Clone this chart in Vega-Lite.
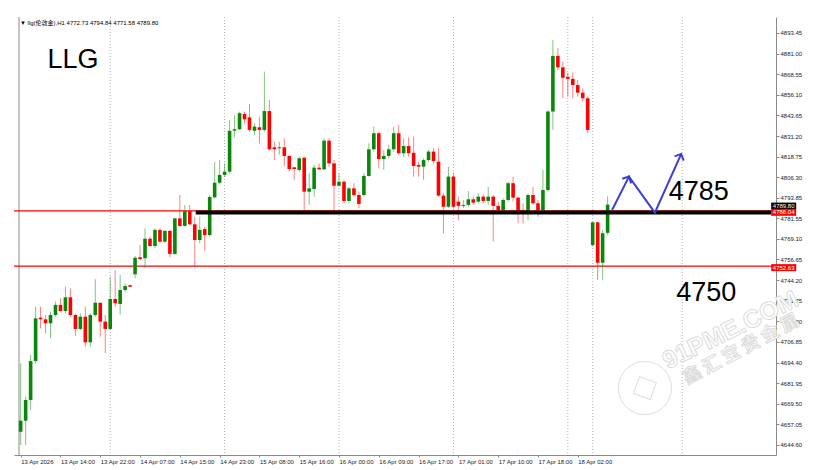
{
  "$schema": "https://vega.github.io/schema/vega-lite/v6.json",
  "width": 762,
  "height": 438,
  "autosize": {"type": "none"},
  "padding": {"left": 14, "top": 17, "right": 46, "bottom": 15},
  "background": "white",
  "config": {"view": {"stroke": null}, "font": "Liberation Sans"},
  "resolve": {"axis": {"x": "independent", "y": "independent"}},
  "datasets": {
    "candles": [
      {"i":0,"o":4652.6,"h":4694.0,"l":4644.6,"c":4659.3},
      {"i":1,"o":4659.3,"h":4673.8,"l":4644.6,"c":4671.8},
      {"i":2,"o":4671.8,"h":4699.0,"l":4665.7,"c":4695.3},
      {"i":3,"o":4695.3,"h":4728.1,"l":4693.9,"c":4721.1},
      {"i":4,"o":4721.5,"h":4728.1,"l":4715.1,"c":4720.5},
      {"i":5,"o":4720.5,"h":4723.1,"l":4712.1,"c":4718.1},
      {"i":6,"o":4718.1,"h":4725.1,"l":4709.0,"c":4723.1},
      {"i":7,"o":4723.1,"h":4731.2,"l":4722.1,"c":4729.2},
      {"i":8,"o":4729.2,"h":4733.2,"l":4725.1,"c":4725.5},
      {"i":9,"o":4725.5,"h":4740.2,"l":4724.1,"c":4733.8},
      {"i":10,"o":4733.8,"h":4739.2,"l":4722.1,"c":4723.1},
      {"i":11,"o":4723.1,"h":4724.1,"l":4710.4,"c":4714.7},
      {"i":12,"o":4714.7,"h":4724.1,"l":4714.1,"c":4722.1},
      {"i":13,"o":4722.1,"h":4728.1,"l":4704.0,"c":4706.6},
      {"i":14,"o":4706.6,"h":4724.1,"l":4704.0,"c":4723.1},
      {"i":15,"o":4723.1,"h":4744.7,"l":4722.1,"c":4730.5},
      {"i":16,"o":4730.5,"h":4730.5,"l":4710.0,"c":4719.1},
      {"i":17,"o":4719.1,"h":4723.1,"l":4700.0,"c":4714.7},
      {"i":18,"o":4714.7,"h":4746.3,"l":4714.1,"c":4732.8},
      {"i":19,"o":4732.8,"h":4750.3,"l":4728.1,"c":4730.2},
      {"i":20,"o":4729.8,"h":4747.3,"l":4723.1,"c":4738.2},
      {"i":21,"o":4738.2,"h":4742.3,"l":4737.2,"c":4740.6},
      {"i":22,"o":4741.1,"h":4741.4,"l":4739.9,"c":4740.2},
      {"i":23,"o":4747.7,"h":4758.8,"l":4745.3,"c":4757.7},
      {"i":24,"o":4758.0,"h":4765.4,"l":4756.3,"c":4756.9},
      {"i":25,"o":4757.4,"h":4775.5,"l":4751.3,"c":4769.2},
      {"i":26,"o":4769.2,"h":4770.4,"l":4764.4,"c":4764.8},
      {"i":27,"o":4764.8,"h":4775.5,"l":4763.4,"c":4774.5},
      {"i":28,"o":4774.5,"h":4775.5,"l":4766.4,"c":4767.4},
      {"i":29,"o":4767.4,"h":4774.5,"l":4766.4,"c":4773.9},
      {"i":30,"o":4773.9,"h":4774.5,"l":4758.0,"c":4760.0},
      {"i":31,"o":4760.0,"h":4781.5,"l":4759.4,"c":4781.5},
      {"i":32,"o":4781.5,"h":4795.6,"l":4776.5,"c":4776.9},
      {"i":33,"o":4776.9,"h":4789.6,"l":4776.5,"c":4785.9},
      {"i":34,"o":4785.9,"h":4789.6,"l":4777.5,"c":4777.9},
      {"i":35,"o":4777.9,"h":4782.5,"l":4752.3,"c":4768.4},
      {"i":36,"o":4768.4,"h":4782.5,"l":4766.4,"c":4774.5},
      {"i":37,"o":4775.0,"h":4776.5,"l":4762.0,"c":4771.4},
      {"i":38,"o":4771.4,"h":4795.6,"l":4770.4,"c":4794.4},
      {"i":39,"o":4794.2,"h":4815.7,"l":4793.6,"c":4803.0},
      {"i":40,"o":4803.0,"h":4816.7,"l":4802.2,"c":4807.7},
      {"i":41,"o":4807.7,"h":4814.7,"l":4806.5,"c":4809.7},
      {"i":42,"o":4809.7,"h":4840.9,"l":4808.7,"c":4834.4},
      {"i":43,"o":4834.4,"h":4843.9,"l":4830.4,"c":4835.3},
      {"i":44,"o":4835.3,"h":4845.9,"l":4834.9,"c":4845.0},
      {"i":45,"o":4844.5,"h":4845.9,"l":4838.9,"c":4841.3},
      {"i":46,"o":4842.5,"h":4850.6,"l":4833.8,"c":4834.9},
      {"i":47,"o":4834.4,"h":4838.9,"l":4831.8,"c":4836.9},
      {"i":48,"o":4836.5,"h":4842.9,"l":4826.8,"c":4834.9},
      {"i":49,"o":4834.9,"h":4870.1,"l":4833.8,"c":4846.3},
      {"i":50,"o":4846.3,"h":4853.0,"l":4822.4,"c":4823.2},
      {"i":51,"o":4824.4,"h":4827.8,"l":4816.7,"c":4823.2},
      {"i":52,"o":4823.8,"h":4827.8,"l":4819.8,"c":4824.4},
      {"i":53,"o":4824.4,"h":4829.8,"l":4812.9,"c":4819.2},
      {"i":54,"o":4819.2,"h":4819.8,"l":4809.7,"c":4811.3},
      {"i":55,"o":4812.3,"h":4812.7,"l":4804.7,"c":4811.3},
      {"i":56,"o":4810.7,"h":4818.7,"l":4809.7,"c":4817.8},
      {"i":57,"o":4818.1,"h":4818.7,"l":4786.5,"c":4797.6},
      {"i":58,"o":4797.6,"h":4808.7,"l":4789.6,"c":4799.6},
      {"i":59,"o":4799.2,"h":4813.7,"l":4794.6,"c":4812.1},
      {"i":60,"o":4812.1,"h":4814.7,"l":4810.7,"c":4811.1},
      {"i":61,"o":4811.1,"h":4829.8,"l":4810.7,"c":4828.4},
      {"i":62,"o":4828.4,"h":4829.8,"l":4812.7,"c":4814.7},
      {"i":63,"o":4814.7,"h":4816.7,"l":4786.5,"c":4801.2},
      {"i":64,"o":4801.2,"h":4808.7,"l":4800.6,"c":4803.6},
      {"i":65,"o":4803.6,"h":4804.7,"l":4790.6,"c":4792.0},
      {"i":66,"o":4792.0,"h":4800.6,"l":4790.6,"c":4799.6},
      {"i":67,"o":4799.6,"h":4802.7,"l":4794.6,"c":4795.6},
      {"i":68,"o":4795.6,"h":4797.6,"l":4787.6,"c":4790.2},
      {"i":69,"o":4795.6,"h":4808.7,"l":4794.6,"c":4807.1},
      {"i":70,"o":4807.1,"h":4826.8,"l":4806.7,"c":4823.2},
      {"i":71,"o":4823.2,"h":4836.9,"l":4821.8,"c":4832.9},
      {"i":72,"o":4832.9,"h":4833.8,"l":4811.7,"c":4817.3},
      {"i":73,"o":4817.3,"h":4822.8,"l":4810.7,"c":4819.2},
      {"i":74,"o":4819.2,"h":4825.8,"l":4817.8,"c":4823.2},
      {"i":75,"o":4823.2,"h":4836.9,"l":4821.8,"c":4832.9},
      {"i":76,"o":4832.9,"h":4837.9,"l":4819.8,"c":4820.8},
      {"i":77,"o":4820.8,"h":4829.8,"l":4818.7,"c":4825.2},
      {"i":78,"o":4825.2,"h":4830.4,"l":4818.7,"c":4820.8},
      {"i":79,"o":4821.1,"h":4830.8,"l":4806.7,"c":4813.1},
      {"i":80,"o":4813.7,"h":4815.7,"l":4806.7,"c":4812.7},
      {"i":81,"o":4812.7,"h":4817.8,"l":4804.7,"c":4816.7},
      {"i":82,"o":4816.7,"h":4822.8,"l":4815.7,"c":4821.8},
      {"i":83,"o":4821.8,"h":4823.8,"l":4814.7,"c":4816.1},
      {"i":84,"o":4815.7,"h":4823.8,"l":4794.6,"c":4795.2},
      {"i":85,"o":4795.2,"h":4796.6,"l":4772.5,"c":4788.5},
      {"i":86,"o":4788.5,"h":4812.7,"l":4787.6,"c":4806.7},
      {"i":87,"o":4806.7,"h":4808.7,"l":4787.6,"c":4788.5},
      {"i":88,"o":4791.6,"h":4794.6,"l":4780.6,"c":4789.0},
      {"i":89,"o":4789.0,"h":4792.6,"l":4787.6,"c":4789.6},
      {"i":90,"o":4789.6,"h":4798.0,"l":4788.5,"c":4793.0},
      {"i":91,"o":4793.0,"h":4794.6,"l":4789.6,"c":4791.0},
      {"i":92,"o":4791.6,"h":4796.6,"l":4790.6,"c":4794.6},
      {"i":93,"o":4794.6,"h":4796.0,"l":4790.6,"c":4792.0},
      {"i":94,"o":4792.0,"h":4800.6,"l":4789.6,"c":4794.6},
      {"i":95,"o":4794.6,"h":4795.6,"l":4767.4,"c":4789.0},
      {"i":96,"o":4789.0,"h":4791.6,"l":4784.5,"c":4786.5},
      {"i":97,"o":4786.5,"h":4793.6,"l":4785.5,"c":4792.6},
      {"i":98,"o":4792.6,"h":4803.6,"l":4791.6,"c":4802.7},
      {"i":99,"o":4802.7,"h":4806.7,"l":4791.6,"c":4794.0},
      {"i":100,"o":4794.0,"h":4794.6,"l":4778.5,"c":4785.0},
      {"i":101,"o":4786.5,"h":4790.6,"l":4778.5,"c":4785.0},
      {"i":102,"o":4785.0,"h":4796.6,"l":4780.6,"c":4795.6},
      {"i":103,"o":4795.6,"h":4800.6,"l":4789.6,"c":4790.6},
      {"i":104,"o":4790.6,"h":4792.6,"l":4782.5,"c":4786.5},
      {"i":105,"o":4786.5,"h":4810.7,"l":4785.5,"c":4798.6},
      {"i":106,"o":4798.6,"h":4847.0,"l":4797.6,"c":4846.0},
      {"i":107,"o":4846.0,"h":4889.2,"l":4834.9,"c":4879.6},
      {"i":108,"o":4879.6,"h":4884.2,"l":4871.1,"c":4872.7},
      {"i":109,"o":4872.7,"h":4876.1,"l":4854.0,"c":4866.4},
      {"i":110,"o":4867.0,"h":4869.5,"l":4855.0,"c":4865.7},
      {"i":111,"o":4865.7,"h":4869.5,"l":4854.0,"c":4862.0},
      {"i":112,"o":4862.0,"h":4865.1,"l":4855.0,"c":4857.4},
      {"i":113,"o":4857.4,"h":4860.0,"l":4852.0,"c":4854.0},
      {"i":114,"o":4854.0,"h":4855.0,"l":4832.9,"c":4834.9},
      {"i":115,"o":4765.4,"h":4779.5,"l":4764.4,"c":4779.1},
      {"i":116,"o":4779.1,"h":4779.5,"l":4744.3,"c":4754.7},
      {"i":117,"o":4754.7,"h":4774.5,"l":4744.3,"c":4772.5},
      {"i":118,"o":4772.73,"h":4794.84,"l":4771.58,"c":4789.80}
    ],
    "separators": [{"i":18},{"i":41},{"i":64},{"i":87},{"i":110},{"i":115},{"i":133}],
    "levels": [{"p":4786.04},{"p":4752.63}],
    "arrow": [
      {"k":0,"i":118.9,"p":4786.5},
      {"k":1,"i":122.3,"p":4806.7},
      {"k":2,"i":127.5,"p":4784.9},
      {"k":3,"i":132.8,"p":4820.4}
    ],
    "boxes": [
      {"p":4789.80,"label":"4789.80","kind":"bid"},
      {"p":4786.04,"label":"4786.04","kind":"line"},
      {"p":4752.63,"label":"4752.63","kind":"line"}
    ]
  },
  "layer": [
    {
      "data": {"name": "separators"},
      "mark": {"type": "rule", "stroke": "#b0b0b0", "strokeDash": [1, 2], "strokeWidth": 1},
      "encoding": {
        "x": {"field": "i", "type": "quantitative", "scale": {"domain": [-0.337, 150.85], "nice": false, "zero": false}, "axis": null}
      }
    },
    {
      "data": {"values": [{}]},
      "mark": {"type": "rule", "stroke": "#8a8a8a", "strokeWidth": 1},
      "encoding": {
        "x": {"datum": -0.337, "type": "quantitative", "scale": {"domain": [-0.337, 150.85], "nice": false, "zero": false}, "axis": null}
      }
    },
    {
      "data": {"name": "levels"},
      "mark": {"type": "rule", "stroke": "#ff0000", "strokeWidth": 1.3},
      "encoding": {
        "y": {"field": "p", "type": "quantitative", "scale": {"domain": [4638.56, 4903.1], "nice": false, "zero": false}, "axis": null}
      }
    },
    {
      "data": {"name": "candles"},
      "mark": {"type": "rule", "strokeWidth": 1, "opacity": 0.5},
      "encoding": {
        "x": {
          "field": "i", "type": "quantitative",
          "scale": {"domain": [-0.337, 150.85], "nice": false, "zero": false},
          "axis": {
            "orient": "bottom",
            "values": [0, 8, 16, 24, 32, 40, 48, 56, 64, 72, 80, 88, 96, 104, 112],
            "labelExpr": "['13 Apr 2026','13 Apr 14:00','13 Apr 22:00','14 Apr 07:00','14 Apr 15:00','14 Apr 23:00','15 Apr 08:00','15 Apr 16:00','16 Apr 00:00','16 Apr 09:00','16 Apr 17:00','17 Apr 01:00','17 Apr 10:00','17 Apr 18:00','18 Apr 02:00'][round(datum.value / 8)]",
            "labelAlign": "left",
            "labelDx": -1,
            "labelFontSize": 6,
            "labelFont": "Liberation Sans",
            "labelColor": "#222222",
            "labelPadding": 1,
            "labelOverlap": false,
            "labelFlush": false,
            "labelBound": false,
            "tickSize": 2,
            "tickColor": "#8a8a8a",
            "domainColor": "#8a8a8a",
            "grid": false,
            "title": null
          }
        },
        "y": {
          "field": "l", "type": "quantitative",
          "scale": {"domain": [4638.56, 4903.1], "nice": false, "zero": false},
          "axis": {
            "orient": "right",
            "values": [4644.6, 4657.05, 4669.5, 4681.95, 4694.4, 4706.85, 4719.3, 4731.75, 4744.2, 4756.65, 4769.1, 4781.55, 4793.85, 4806.3, 4818.75, 4831.2, 4843.65, 4856.1, 4868.55, 4881.0, 4893.45],
            "format": ".2f",
            "labelFontSize": 6,
            "labelFont": "Liberation Sans",
            "labelColor": "#222222",
            "labelPadding": 1,
            "labelOverlap": false,
            "labelBound": false,
            "labelFlush": false,
            "tickSize": 3,
            "tickColor": "#8a8a8a",
            "domainColor": "#8a8a8a",
            "grid": false,
            "title": null
          }
        },
        "y2": {"field": "h"},
        "color": {"condition": {"test": "datum.c >= datum.o", "value": "#0a870a"}, "value": "#ff0000"}
      }
    },
    {
      "data": {"name": "candles"},
      "mark": {"type": "bar", "size": 3.6},
      "encoding": {
        "x": {"field": "i", "type": "quantitative", "scale": {"domain": [-0.337, 150.85], "nice": false, "zero": false}, "axis": null},
        "y": {"field": "o", "type": "quantitative", "scale": {"domain": [4638.56, 4903.1], "nice": false, "zero": false}, "axis": null},
        "y2": {"field": "c"},
        "color": {"condition": {"test": "datum.c >= datum.o", "value": "#0a870a"}, "value": "#ff0000"}
      }
    },
    {
      "data": {"values": [{}]},
      "mark": {"type": "rule", "stroke": "#000000", "strokeWidth": 4},
      "encoding": {
        "x": {"datum": 35.2, "type": "quantitative", "scale": {"domain": [-0.337, 150.85], "nice": false, "zero": false}, "axis": null},
        "x2": {"datum": 150.85},
        "y": {"datum": 4785.0, "type": "quantitative", "scale": {"domain": [4638.56, 4903.1], "nice": false, "zero": false}, "axis": null}
      }
    },
    {
      "data": {"name": "arrow"},
      "mark": {"type": "line", "stroke": "#3c3fd6", "strokeWidth": 2},
      "encoding": {
        "x": {"field": "i", "type": "quantitative", "scale": {"domain": [-0.337, 150.85], "nice": false, "zero": false}, "axis": null},
        "y": {"field": "p", "type": "quantitative", "scale": {"domain": [4638.56, 4903.1], "nice": false, "zero": false}, "axis": null},
        "order": {"field": "k", "type": "quantitative"}
      }
    },
    {
      "data": {"values": [{"i": 122.3, "p": 4806.7}]},
      "mark": {"type": "point", "shape": "M-1,1L0,0L1,1", "filled": false, "stroke": "#3c3fd6", "strokeWidth": 2, "size": 100, "angle": 27.5, "opacity": 1},
      "encoding": {
        "x": {"field": "i", "type": "quantitative", "scale": {"domain": [-0.337, 150.85], "nice": false, "zero": false}, "axis": null},
        "y": {"field": "p", "type": "quantitative", "scale": {"domain": [4638.56, 4903.1], "nice": false, "zero": false}, "axis": null}
      }
    },
    {
      "data": {"values": [{"i": 132.8, "p": 4820.4}]},
      "mark": {"type": "point", "shape": "M-1,1L0,0L1,1", "filled": false, "stroke": "#3c3fd6", "strokeWidth": 2, "size": 100, "angle": 24.5, "opacity": 1},
      "encoding": {
        "x": {"field": "i", "type": "quantitative", "scale": {"domain": [-0.337, 150.85], "nice": false, "zero": false}, "axis": null},
        "y": {"field": "p", "type": "quantitative", "scale": {"domain": [4638.56, 4903.1], "nice": false, "zero": false}, "axis": null}
      }
    },
    {
      "data": {"values": [{"t": "LLG", "i": 5.4, "p": 4872.3}, {"t": "4785", "i": 130.3, "p": 4792.6}, {"t": "4750", "i": 131.8, "p": 4731.6}]},
      "mark": {"type": "text", "font": "Liberation Sans", "fontSize": 27, "align": "left", "baseline": "alphabetic", "fill": "#000000"},
      "encoding": {
        "x": {"field": "i", "type": "quantitative", "scale": {"domain": [-0.337, 150.85], "nice": false, "zero": false}, "axis": null},
        "y": {"field": "p", "type": "quantitative", "scale": {"domain": [4638.56, 4903.1], "nice": false, "zero": false}, "axis": null},
        "text": {"field": "t"}
      }
    },
    {
      "data": {"values": [{"t": "91PME.COM", "i": 142.7, "p": 4714.1}]},
      "mark": {"type": "text", "font": "Liberation Sans", "fontWeight": "bold", "fontSize": 25, "align": "center", "baseline": "middle", "angle": -26, "fill": "#ffffff", "stroke": "#dcdcdc", "strokeWidth": 1},
      "encoding": {
        "x": {"field": "i", "type": "quantitative", "scale": {"domain": [-0.337, 150.85], "nice": false, "zero": false}, "axis": null},
        "y": {"field": "p", "type": "quantitative", "scale": {"domain": [4638.56, 4903.1], "nice": false, "zero": false}, "axis": null},
        "text": {"field": "t"}
      }
    },
    {
      "data": {"values": [{"t": "鑫 汇 宝 贵 金 属", "i": 144.9, "p": 4702.0}]},
      "mark": {"type": "text", "font": "Noto Sans CJK SC", "fontWeight": "bold", "fontSize": 18, "align": "center", "baseline": "middle", "angle": -28, "fill": "#ffffff", "stroke": "#dcdcdc", "strokeWidth": 1},
      "encoding": {
        "x": {"field": "i", "type": "quantitative", "scale": {"domain": [-0.337, 150.85], "nice": false, "zero": false}, "axis": null},
        "y": {"field": "p", "type": "quantitative", "scale": {"domain": [4638.56, 4903.1], "nice": false, "zero": false}, "axis": null},
        "text": {"field": "t"}
      }
    },
    {
      "data": {"values": [{"i": 125.5, "p": 4679.0}]},
      "mark": {"type": "point", "shape": "circle", "filled": false, "stroke": "#dedede", "strokeWidth": 1, "size": 2827, "opacity": 1},
      "encoding": {
        "x": {"field": "i", "type": "quantitative", "scale": {"domain": [-0.337, 150.85], "nice": false, "zero": false}, "axis": null},
        "y": {"field": "p", "type": "quantitative", "scale": {"domain": [4638.56, 4903.1], "nice": false, "zero": false}, "axis": null}
      }
    },
    {
      "data": {"values": [{"i": 125.5, "p": 4679.0}]},
      "mark": {"type": "point", "shape": "square", "filled": false, "stroke": "#dedede", "strokeWidth": 1, "size": 320, "angle": 20, "opacity": 1},
      "encoding": {
        "x": {"field": "i", "type": "quantitative", "scale": {"domain": [-0.337, 150.85], "nice": false, "zero": false}, "axis": null},
        "y": {"field": "p", "type": "quantitative", "scale": {"domain": [4638.56, 4903.1], "nice": false, "zero": false}, "axis": null}
      }
    },
    {
      "data": {"name": "boxes"},
      "mark": {"type": "tick", "orient": "horizontal", "size": 25, "thickness": 7, "opacity": 1, "yOffset": 1.5},
      "encoding": {
        "x": {"datum": 153.4, "type": "quantitative", "scale": {"domain": [-0.337, 150.85], "nice": false, "zero": false}, "axis": null},
        "y": {"field": "p", "type": "quantitative", "scale": {"domain": [4638.56, 4903.1], "nice": false, "zero": false}, "axis": null},
        "color": {"field": "kind", "type": "nominal", "scale": {"domain": ["bid", "line"], "range": ["#000000", "#ff0000"]}, "legend": null}
      }
    },
    {
      "data": {"name": "boxes"},
      "mark": {"type": "text", "font": "Liberation Sans", "fontSize": 6, "fill": "#ffffff", "align": "center", "baseline": "middle", "yOffset": 1.5},
      "encoding": {
        "x": {"datum": 153.4, "type": "quantitative", "scale": {"domain": [-0.337, 150.85], "nice": false, "zero": false}, "axis": null},
        "y": {"field": "p", "type": "quantitative", "scale": {"domain": [4638.56, 4903.1], "nice": false, "zero": false}, "axis": null},
        "text": {"field": "label"}
      }
    },
    {
      "data": {"values": [{"t": "▼ llg(伦敦金),H1  4772.73 4794.84 4771.58 4789.80", "i": -0.14, "p": 4899.5}]},
      "mark": {"type": "text", "font": "Liberation Sans, Noto Sans CJK SC", "fontSize": 6, "align": "left", "baseline": "middle", "fill": "#000000"},
      "encoding": {
        "x": {"field": "i", "type": "quantitative", "scale": {"domain": [-0.337, 150.85], "nice": false, "zero": false}, "axis": null},
        "y": {"field": "p", "type": "quantitative", "scale": {"domain": [4638.56, 4903.1], "nice": false, "zero": false}, "axis": null},
        "text": {"field": "t"}
      }
    }
  ]
}
